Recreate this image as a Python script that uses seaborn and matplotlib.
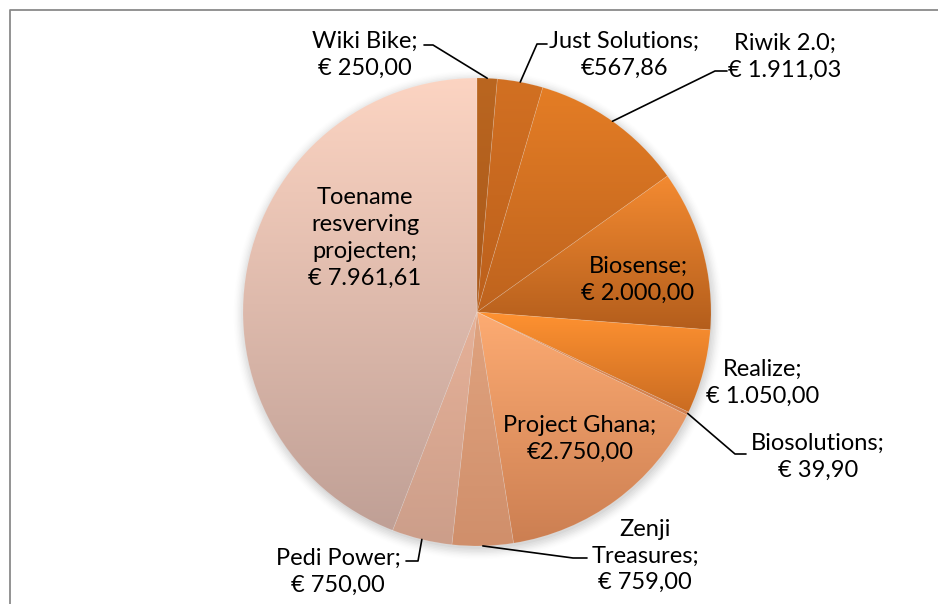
import matplotlib.pyplot as plt
import seaborn as sns
import numpy as np
from matplotlib.colors import to_rgb
from matplotlib.patches import Circle
from matplotlib.lines import Line2D

#Pie chart of the project spending, drawn in the old Excel style (gradient slices, leader lines).
sns.set(style="white", rc={'axes.facecolor':'white', 'figure.facecolor':'white'})
plt.rcParams['font.family'] = ['Lato', 'DejaVu Sans']

names = ["Wiki Bike", "Just Solutions", "Riwik 2.0", "Biosense", "Realize", "Biosolutions",
         "Project Ghana", "Zenji Treasures", "Pedi Power", "Toename resverving projecten"]
amounts = [250.00, 567.86, 1911.03, 2000.00, 1050.00, 39.90, 2750.00, 759.00, 750.00, 7961.61]
labels = ["Wiki Bike;\n€ 250,00", "Just Solutions;\n€567,86", "Riwik 2.0;\n€ 1.911,03",
          "Biosense;\n€ 2.000,00", "Realize;\n€ 1.050,00", "Biosolutions;\n€ 39,90",
          "Project Ghana;\n€2.750,00", "Zenji\nTreasures;\n€ 759,00", "Pedi Power;\n€ 750,00",
          "Toename\nresverving\nprojecten;\n€ 7.961,61"]
tops = ["#BA6620", "#D27022", "#E47D25", "#F38A31", "#FF9231", "#E38D52",
        "#FDAB72", "#E0A37F", "#E6B198", "#FCD4C2"]
bottoms = ["#A9581A", "#BC601C", "#BE631E", "#B45E1C", "#CA6C22", "#CF7E4E",
           "#CC7F52", "#D08F6B", "#CC9E8A", "#C0A096"]

#Where the labels sit, in picture pixels
labelpos = [(365, 55), (624, 55), (785, 57), (638, 280), (763, 383), (818, 457),
            (580, 439), (645, 556), (338, 572), (365, 238)]
#Elbow of the leader lines, in picture pixels (None = no leader)
elbows = [[(424, 45), (433, 45)], [(547, 44), (537, 44)], [(727, 71), (715, 71)], None, None,
          [(746, 454), (735, 454)], None, [(587, 558), (573, 558)], [(406, 561), (418, 561)], None]

def px(x, y):
    return (x - 477) / 234, (312 - y) / 234

fig = plt.figure(figsize=(9.38, 6.04), dpi=100)
ax = plt.axes([0, 0, 1, 1])

for r, a in zip(np.linspace(1.0, 1.045, 8), np.linspace(0.07, 0.01, 8)):
    ax.add_patch(Circle((0.005, -0.012), r, color="gray", alpha=a, lw=0, zorder=0.5))

wedges, texts = plt.pie(amounts, startangle=90, counterclock=False, colors=tops, radius=1,
                        wedgeprops=dict(edgecolor=(1, 1, 1, 0.15), linewidth=0.5))

for w, top, bottom in zip(wedges, tops, bottoms):
    box = w.get_path().get_extents()
    grad = np.linspace(to_rgb(bottom), to_rgb(top), 64).reshape(64, 1, 3)
    im = plt.imshow(grad, extent=(box.x0, box.x1, box.y0, box.y1), origin="lower",
                    aspect="auto", interpolation="bilinear", zorder=0.9)
    im.set_clip_path(w)
    w.set_facecolor("none")

for w, label, pos, elbow in zip(wedges, labels, labelpos, elbows):
    x, y = px(*pos)
    plt.text(x, y, label, ha="center", va="center", multialignment="center",
             fontsize=17, linespacing=1.34, color="black", zorder=5)
    if elbow is None:
        continue
    ang = np.deg2rad((w.theta1 + w.theta2) / 2)
    pts = [px(*p) for p in elbow] + [(np.cos(ang), np.sin(ang))]
    plt.plot([p[0] for p in pts], [p[1] for p in pts], color="black", lw=1.2, zorder=4)

plt.xlim(-477 / 234, 461 / 234)
plt.ylim(-292 / 234, 312 / 234)
ax.set_aspect("equal")
plt.axis("off")

#Grey chart border on the left and top
fig.add_artist(Line2D([9.5 / 938, 9.5 / 938, 1], [0, 1 - 9.5 / 604, 1 - 9.5 / 604],
                      transform=fig.transFigure, color="#8A8A8A", lw=1.3))

plt.savefig("out.png", dpi=100)
plt.close()
